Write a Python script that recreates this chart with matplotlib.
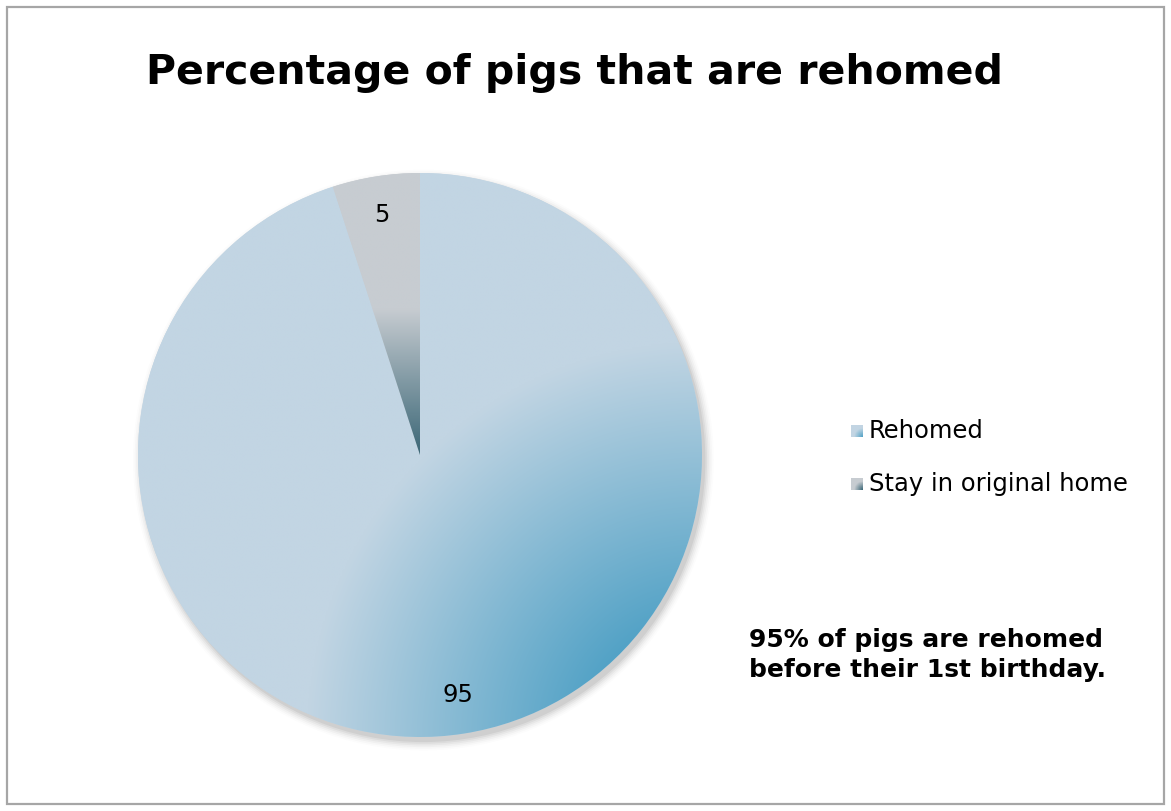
import numpy as np
import matplotlib
matplotlib.use('Agg')
import matplotlib.pyplot as plt
from matplotlib.colors import to_rgb
from matplotlib.patches import Rectangle, Circle

# data
labels = ['Rehomed', 'Stay in original home']
values = [95, 5]
title = 'Percentage of pigs that are rehomed'
note = '95% of pigs are rehomed\nbefore their 1st birthday.'

# colours (light end, dark end) for each slice
light = ['#C2D5E3', '#C7CCD1']
dark = ['#52A2C6', '#3A6676']

W, H = 1171, 811
fig = plt.figure(figsize=(W / 100, H / 100), dpi=100)
fig.patch.set_facecolor('white')

# outer chart border
fig.patches.append(Rectangle((7 / W, 7 / H), 1157 / W, 797 / H, transform=fig.transFigure,
                             fill=False, edgecolor='#A6A6A6', linewidth=1.6))

fig.text(574 / W, 1 - 73 / H, title, ha='center', va='center', fontsize=29.5,
         fontweight='bold')

# pie axes: centre (420, 455), radius 282 px
cx, cy, r = 420, 455, 282
ax = fig.add_axes([(cx - r) / W, (H - cy - r) / H, 2 * r / W, 2 * r / H])
ax.set_axis_off()

wedges, texts = ax.pie(values, startangle=90, counterclock=False, radius=1,
                       colors=light, labels=[str(v) for v in values], labeldistance=0.86,
                       wedgeprops=dict(linewidth=0))
for t in texts:
    t.set_fontsize(17.5)
    t.set_ha('center')
    t.set_va('center')

# soft shadow behind the pie
for i, a in enumerate(np.linspace(0.05, 0.01, 6)):
    s = Circle((0.012, -0.018), 1 + 0.006 * i, facecolor='black', alpha=a,
               edgecolor='none', zorder=0, clip_on=False)
    ax.add_patch(s)

# gradient fill for each slice
n = 400
xs = np.linspace(-1, 1, n)
ys = np.linspace(1, -1, n)
X, Y = np.meshgrid(xs, ys)

# Rehomed: radial, darkest towards the bottom-right corner
d = np.sqrt((X - 1) ** 2 + (Y + 1) ** 2)
t = np.clip((1.40 - d) / (1.40 - 0.41), 0, 1)
c0, c1 = np.array(to_rgb(light[0])), np.array(to_rgb(dark[0]))
img = c0 + t[..., None] * (c1 - c0)
im = ax.imshow(img, extent=[-1, 1, -1, 1], zorder=1, interpolation='bilinear')
im.set_clip_path(wedges[0])

# Stay: vertical, dark towards centre
t2 = np.clip((0.52 - Y) / 0.52, 0, 1)
c0, c1 = np.array(to_rgb(light[1])), np.array(to_rgb(dark[1]))
img2 = c0 + t2[..., None] * (c1 - c0)
im2 = ax.imshow(img2, extent=[-1, 1, -1, 1], zorder=1, interpolation='bilinear')
im2.set_clip_path(wedges[1])

for w in wedges:
    w.set_zorder(0.5)
for t in texts:
    t.set_zorder(3)

ax.set_xlim(-1, 1)
ax.set_ylim(-1, 1)
ax.set_aspect('equal')

# legend, drawn by hand with gradient swatches
leg_y = [431, 484]
for i, lab in enumerate(labels):
    sw = fig.add_axes([851 / W, 1 - (leg_y[i] + 6) / H, 12 / W, 12 / H])
    gx, gy = np.meshgrid(np.linspace(0, 1, 20), np.linspace(1, 0, 20))
    g = np.clip(1 - np.sqrt((gx - 1) ** 2 + gy ** 2) / 0.75, 0, 1)
    a0, a1 = np.array(to_rgb(light[i])), np.array(to_rgb(dark[i]))
    sw.imshow(a0 + g[..., None] * (a1 - a0), extent=[0, 1, 0, 1], interpolation='bilinear')
    sw.set_axis_off()
    fig.text(869 / W, 1 - leg_y[i] / H, lab, ha='left', va='center', fontsize=17.5)

fig.text(749 / W, 1 - 655 / H, note, ha='left', va='center', fontsize=18,
         fontweight='bold', linespacing=1.3)

fig.savefig('out.png', dpi=100, facecolor='white')
